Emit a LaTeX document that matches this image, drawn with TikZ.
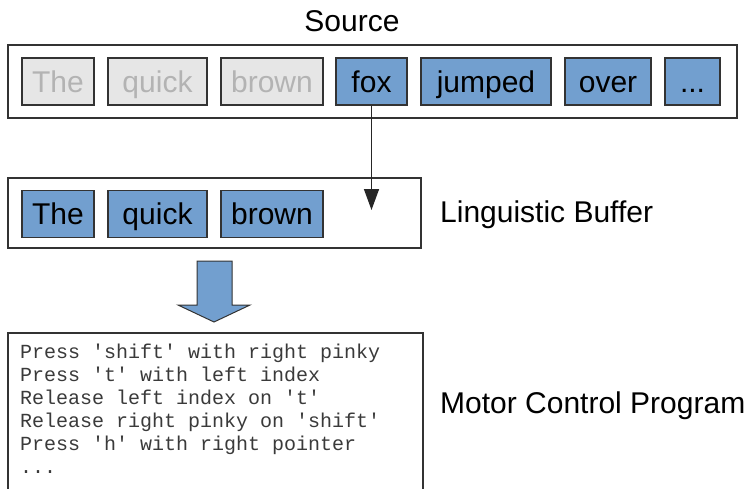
\documentclass[tikz,border=0pt]{standalone}
\usepackage{fontspec}
\setmainfont{Liberation Sans}
\newfontfamily\monofont{Liberation Mono}
\usetikzlibrary{arrows.meta}
\definecolor{wblue}{HTML}{729FCF}
\definecolor{wgray}{HTML}{E6E6E6}
\definecolor{wgraytext}{HTML}{B3B3B3}
\definecolor{edge}{HTML}{333333}
\definecolor{codecol}{HTML}{3A3A3A}
\tikzset{
  wordbox/.style={draw=edge, line width=1.1pt, fill=wblue, inner sep=0pt, minimum height=47pt,
    font=\fontsize{30}{32}\selectfont, text=black, text height=24pt, text depth=3pt},
  oldbox/.style={wordbox, fill=wgray, text=wgraytext},
  frame/.style={draw=edge, line width=1.1pt, inner sep=0pt},
  label/.style={font=\fontsize{30}{32}\selectfont, inner sep=0pt},
  codeline/.style={font=\monofont\fontsize{20}{23}\selectfont, text=codecol, anchor=base west, inner sep=0pt}
}
\begin{document}
\begin{tikzpicture}[x=1pt,y=-1pt]
\useasboundingbox (0,0) rectangle (745,488);
% Source
\node[label] (srclabel) at (352,21) {Source};
\node[frame, minimum width=729pt, minimum height=73pt] (srcbox) at (372.5,81.5) {};
\node[oldbox, minimum width=72pt] (s1) at (58,81.5) {The};
\node[oldbox, minimum width=99pt] (s2) at (157.5,81.5) {quick};
\node[oldbox, minimum width=102pt] (s3) at (272,81.5) {brown};
\node[wordbox, minimum width=71pt] (s4) at (371.5,81.5) {fox};
\node[wordbox, minimum width=130pt] (s5) at (486,81.5) {jumped};
\node[wordbox, minimum width=86pt] (s6) at (608,81.5) {over};
\node[wordbox, minimum width=55pt] (s7) at (692.5,81.5) {.\kern0pt.\kern0pt.};
% Linguistic buffer
\node[frame, minimum width=413pt, minimum height=70pt] (bufbox) at (214.5,213) {};
\node[wordbox, minimum width=72pt] (b1) at (58,214) {The};
\node[wordbox, minimum width=99pt] (b2) at (157.5,214) {quick};
\node[wordbox, minimum width=102pt] (b3) at (272,214) {brown};
\node[label, anchor=west] (buflabel) at (440,214.5) {Linguistic Buffer};
\coordinate (tip) at (371.5,210);
\draw[black!85, line width=1.5pt, -{Triangle[width=15pt,length=21pt]}] (s4.south) -- (tip);
% Block arrow
\draw[fill=wblue, draw=edge, line width=1pt, line join=miter]
  (197,261) -- (232,261) -- (232,305) -- (250,305) -- (214,322) -- (178,305) -- (197,305) -- cycle;
% Motor control program
\draw[edge, line width=1.1pt] (8,490) -- (8,333) -- (423,333) -- (423,490);
\node[codeline] (c1) at (20,358) {Press 'shift' with right pinky};
\node[codeline] (c2) at (20,381) {Press 't' with left index};
\node[codeline] (c3) at (20,404) {Release left index on 't'};
\node[codeline] (c4) at (20,427) {Release right pinky on 'shift'};
\node[codeline] (c5) at (20,450) {Press 'h' with right pointer};
\node[codeline] (c6) at (20,473) {...};
\node[label, anchor=west] (motorlabel) at (440,406) {Motor Control Program};
\end{tikzpicture}
\end{document}
